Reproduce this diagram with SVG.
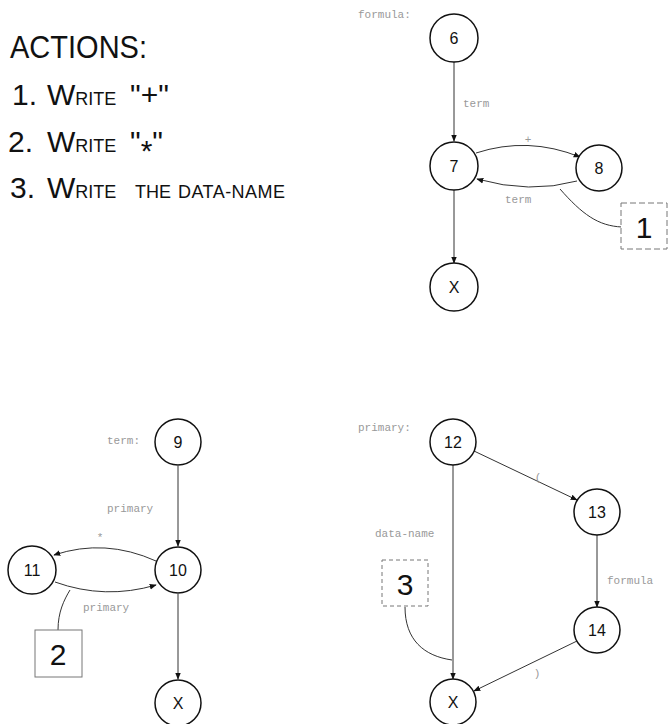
<svg xmlns="http://www.w3.org/2000/svg" width="668" height="724" viewBox="0 0 668 724">
<style>
.node circle{fill:#fff;stroke:#111;stroke-width:1.5}
.node text{font-family:"Liberation Sans",Arial,sans-serif;font-size:16px;fill:#111;text-anchor:middle}
.edge{fill:none;stroke:#333;stroke-width:1;marker-end:url(#ah)}
.link{fill:none;stroke:#333;stroke-width:1}
.lbl{font-family:"Liberation Mono","Courier New",monospace;font-size:11px;fill:#999}
.big{font-family:"Liberation Sans",Arial,sans-serif;fill:#111}
.box rect{fill:#fff;stroke:#777;stroke-width:1}
.box text{font-family:"Liberation Sans",Arial,sans-serif;font-size:30px;fill:#111;text-anchor:middle}
</style>
<defs>
<marker id="ah" viewBox="0 0 10 10" refX="9" refY="5" markerWidth="7" markerHeight="7" orient="auto" markerUnits="userSpaceOnUse">
<path d="M0,1 L10,5 L0,9 z" fill="#111"/>
</marker>
</defs>
<rect width="668" height="724" fill="#fff"/>

<g id="actions" class="big">
<text x="10" y="58" font-size="31" textLength="137" lengthAdjust="spacingAndGlyphs">ACTIONS:</text>
<text x="12" y="105" font-size="30">1.<tspan x="47">W</tspan><tspan font-size="18">RITE</tspan><tspan x="130">"+"</tspan></text>
<text x="8" y="152" font-size="30">2.<tspan x="47">W</tspan><tspan font-size="18">RITE</tspan><tspan x="130">"</tspan><tspan dy="9">*</tspan><tspan dy="-9">"</tspan></text>
<text x="10" y="198" font-size="30">3.<tspan x="47">W</tspan><tspan font-size="18">RITE</tspan><tspan x="135" font-size="18">THE</tspan><tspan x="178" font-size="18" textLength="107" lengthAdjust="spacing">DATA-NAME</tspan></text>
</g>

<g id="labels">
<text class="lbl" x="358" y="18">formula:</text>
<text class="lbl" x="107" y="444">term:</text>
<text class="lbl" x="358" y="431">primary:</text>
</g>

<g id="connectors">
<path class="edge" d="M454,62 L454,141"/>
<path class="edge" d="M476,153 Q528,136 580,157"/>
<path class="edge" d="M577,181 Q530,194 477,179"/>
<path class="edge" d="M454,190 L454,263"/>
<path class="link" d="M622,227 C598,226 582,214 560,189"/>
<text class="lbl" x="463" y="107">term</text>
<text class="lbl" x="528" y="143" text-anchor="middle">+</text>
<text class="lbl" x="505" y="203">term</text>

<path class="edge" d="M178,466 L178,546"/>
<path class="edge" d="M156,561 Q105,538 54,555"/>
<path class="edge" d="M55,582 Q105,600 156,585"/>
<path class="edge" d="M178,594 L178,679"/>
<path class="link" d="M58,630 C58,612 64,600 70,590"/>
<text class="lbl" x="107" y="512">primary</text>
<text class="lbl" x="100" y="541" text-anchor="middle">*</text>
<text class="lbl" x="83" y="611">primary</text>

<path class="edge" d="M474,451 L577,500"/>
<path class="edge" d="M597,535 L597,607"/>
<path class="edge" d="M577,641 L474,691"/>
<path class="edge" d="M453,465 L453,679"/>
<path class="link" d="M405,607 C405,640 424,656 452,660"/>
<text class="lbl" x="538" y="481" text-anchor="middle">(</text>
<text class="lbl" x="607" y="584">formula</text>
<text class="lbl" x="537" y="677" text-anchor="middle">)</text>
<text class="lbl" x="375" y="537">data-name</text>
</g>

<g id="n6" class="node"><circle cx="454" cy="38" r="24"/><text x="454" y="44">6</text></g>
<g id="n7" class="node"><circle cx="454" cy="166" r="24"/><text x="454" y="172">7</text></g>
<g id="n8" class="node"><circle cx="599" cy="168" r="23"/><text x="599" y="174">8</text></g>
<g id="nx1" class="node"><circle cx="454" cy="287" r="24"/><text x="454" y="293">X</text></g>
<g id="box1" class="box"><rect x="621" y="203" width="46" height="46" stroke-dasharray="6,3"/><text x="644" y="238">1</text></g>

<g id="n9" class="node"><circle cx="178" cy="442" r="23"/><text x="178" y="448">9</text></g>
<g id="n10" class="node"><circle cx="178" cy="570" r="23"/><text x="178" y="576">10</text></g>
<g id="n11" class="node"><circle cx="32" cy="570" r="24"/><text x="32" y="576">11</text></g>
<g id="nx2" class="node"><circle cx="178" cy="703" r="23"/><text x="178" y="709">X</text></g>
<g id="box2" class="box"><rect x="35" y="630" width="47" height="47"/><text x="58" y="665">2</text></g>

<g id="n12" class="node"><circle cx="453" cy="442" r="23"/><text x="453" y="448">12</text></g>
<g id="n13" class="node"><circle cx="597" cy="512" r="23"/><text x="597" y="518">13</text></g>
<g id="n14" class="node"><circle cx="597" cy="630" r="23"/><text x="597" y="636">14</text></g>
<g id="nx3" class="node"><circle cx="453" cy="702" r="23"/><text x="453" y="708">X</text></g>
<g id="box3" class="box"><rect x="382" y="560" width="46" height="46" stroke-dasharray="4,3"/><text x="405" y="595">3</text></g>
</svg>
